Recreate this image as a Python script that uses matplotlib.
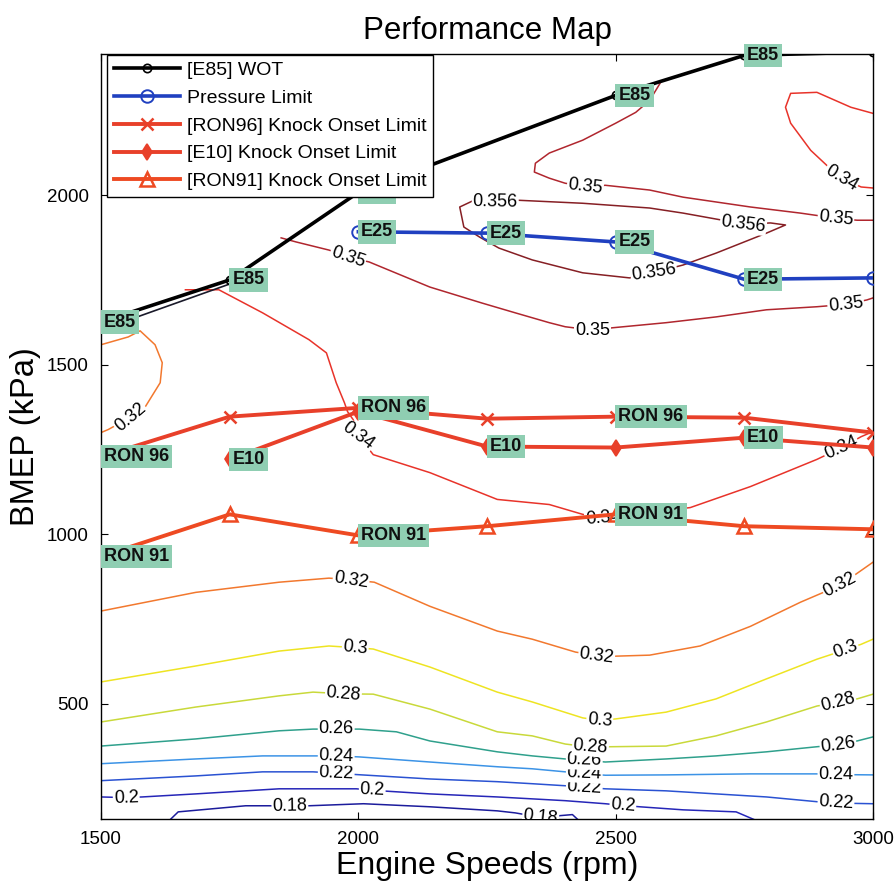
import matplotlib
matplotlib.use('Agg')
import matplotlib.pyplot as plt
import numpy as np

plt.rcParams['font.family'] = ['Liberation Sans', 'DejaVu Sans']

# ---------------- series data ----------------
rpm_wot = [1500, 1750, 2000, 2500, 2750, 3000]
bmep_wot = [1626, 1750, 2008, 2294, 2412, 2422]
rpm_wot2 = [1500, 1750]
bmep_wot2 = [1603, 1738]
rpm_press = [2000, 2250, 2500, 2750, 3000]
bmep_press = [1892, 1888, 1862, 1752, 1756]
rpm_ron96 = [1500, 1750, 2000, 2250, 2500, 2750, 3000]
bmep_ron96 = [1229, 1347, 1373, 1341, 1347, 1344, 1300]
rpm_e10 = [1750, 2000, 2250, 2500, 2750, 3000]
bmep_e10 = [1221, 1362, 1259, 1256, 1285, 1256]
rpm_ron91 = [1500, 1750, 2000, 2250, 2500, 2750, 3000]
bmep_ron91 = [935, 1059, 997, 1024, 1059, 1024, 1015]

legend_labels = ['[E85] WOT', 'Pressure Limit', '[RON96] Knock Onset Limit',
                 '[E10] Knock Onset Limit', '[RON91] Knock Onset Limit']

# point labels
ptlab_text = ['E85', 'E85', 'E85', 'E85', 'E85',
              'E25', 'E25', 'E25', 'E25',
              'RON 96', 'RON 96', 'RON 96',
              'E10', 'E10', 'E10',
              'RON 91', 'RON 91', 'RON 91']
ptlab_x = [1500, 1750, 2000, 2500, 2750,
           2000, 2250, 2500, 2750,
           1500, 2000, 2500,
           1750, 2250, 2750,
           1500, 2000, 2500]
ptlab_y = [1626, 1750, 2008, 2294, 2412,
           1892, 1888, 1862, 1752,
           1229, 1373, 1347,
           1221, 1259, 1285,
           935, 997, 1059]

# ---------------- efficiency contour lines (traced) ----------------
c018_x = [1635, 1650, 1781, 1826, 1867, 1904, 2010, 2139, 2270, 2305, 2354, 2416, 2426]
c018_y = [160, 182, 200, 200, 199, 200, 206, 197, 185, 179, 166, 174, 160]
c020_x = [1500, 1549, 1580, 1684, 1846, 1996, 2027, 2055, 2139, 2270, 2402, 2480, 2514, 2547, 2631, 2734, 2768]
c020_y = [226, 224, 226, 235, 250, 250, 246, 243, 235, 226, 215, 206, 201, 197, 188, 182, 160]
c022_x = [1500, 1684, 1814, 1912, 1957, 1996, 2139, 2270, 2338, 2402, 2439, 2480, 2598, 2695, 2793, 2891, 2928, 3000]
c022_y = [274, 288, 300, 300, 296, 292, 279, 271, 265, 259, 254, 250, 244, 235, 226, 212, 208, 206]
c024_x = [1500, 1684, 1814, 1912, 1957, 2002, 2139, 2270, 2338, 2402, 2439, 2480, 2598, 2762, 2891, 2928, 3000]
c024_y = [324, 338, 347, 347, 347, 344, 329, 315, 309, 300, 295, 290, 291, 294, 294, 292, 291]
c026_x = [1500, 1684, 1846, 1912, 1957, 2002, 2074, 2139, 2270, 2338, 2402, 2439, 2480, 2598, 2695, 2793, 2891, 2932, 2969, 3000]
c026_y = [376, 397, 421, 426, 426, 426, 418, 391, 359, 347, 338, 334, 329, 338, 347, 359, 374, 380, 391, 403]
c028_x = [1500, 1684, 1846, 1912, 1971, 2029, 2139, 2270, 2338, 2402, 2451, 2488, 2598, 2695, 2793, 2891, 2932, 2969, 3000]
c028_y = [447, 491, 524, 535, 530, 529, 485, 418, 406, 382, 373, 374, 376, 406, 447, 494, 505, 515, 529]
c030_x = [1500, 1684, 1846, 1943, 1994, 2029, 2139, 2270, 2338, 2436, 2469, 2500, 2598, 2695, 2793, 2891, 2947, 2977, 3000]
c030_y = [565, 612, 656, 671, 666, 662, 609, 535, 506, 459, 452, 456, 476, 515, 574, 632, 660, 676, 691]
c032a_x = [1500, 1684, 1846, 1943, 1986, 2031, 2139, 2270, 2338, 2422, 2463, 2500, 2566, 2664, 2762, 2859, 2936, 3000]
c032a_y = [774, 829, 859, 871, 866, 859, 788, 715, 691, 653, 643, 641, 644, 671, 729, 800, 850, 918]
c032b_x = [1500, 1553, 1576, 1605, 1619, 1615, 1586, 1557, 1514, 1500]
c032b_y = [1559, 1582, 1600, 1559, 1506, 1447, 1376, 1345, 1309, 1300]
c034a_x = [1664, 1729, 1814, 1904, 1938, 1957, 1973, 1979, 1990, 2000, 2029, 2139, 2270, 2371, 2436, 2475,
           2645, 2762, 2891, 2938, 2977, 3000]
c034a_y = [1721, 1721, 1653, 1574, 1535, 1447, 1388, 1362, 1338, 1290, 1235, 1182, 1103, 1088, 1059, 1048,
           1079, 1141, 1221, 1255, 1288, 1303]
c034b_x = [3000, 2957, 2891, 2840, 2830, 2840, 2879, 2910, 2938, 2977, 3000]
c034b_y = [2241, 2259, 2303, 2300, 2259, 2212, 2132, 2088, 2050, 2024, 2021]
c035a_x = [2586, 2566, 2539, 2500, 2436, 2371, 2344, 2342, 2371, 2402, 2441, 2480, 2566, 2631, 2762, 2859, 2928,
           2969, 3000]
c035a_y = [2329, 2279, 2244, 2212, 2162, 2124, 2094, 2068, 2050, 2035, 2026, 2029, 2015, 1994, 1965, 1947, 1932,
           1926, 1926]
c035b_x = [1850, 1879, 1943, 1980, 2021, 2139, 2240, 2305, 2371, 2402, 2455, 2494, 2598, 2695, 2793, 2891, 2947,
           2988, 3000]
c035b_y = [1874, 1862, 1838, 1818, 1803, 1729, 1682, 1653, 1624, 1612, 1602, 1609, 1624, 1641, 1662, 1671, 1678,
           1691, 1697]
c0356_x = [2266, 2309, 2436, 2566, 2631, 2748, 2801, 2830, 2793, 2695, 2631, 2574, 2527, 2436, 2338, 2273, 2236,
           2205, 2197, 2225, 2266]
c0356_y = [1980, 1985, 1976, 1962, 1947, 1915, 1918, 1912, 1888, 1829, 1794, 1772, 1756, 1771, 1809, 1844, 1876,
           1906, 1965, 1985, 1980]

contour_levels = [0.18, 0.2, 0.22, 0.24, 0.26, 0.28, 0.3, 0.32, 0.32, 0.34, 0.34, 0.35, 0.35, 0.356]
contour_xs = [c018_x, c020_x, c022_x, c024_x, c026_x, c028_x, c030_x, c032a_x, c032b_x, c034a_x, c034b_x,
              c035a_x, c035b_x, c0356_x]
contour_ys = [c018_y, c020_y, c022_y, c024_y, c026_y, c028_y, c030_y, c032a_y, c032b_y, c034a_y, c034b_y,
              c035a_y, c035b_y, c0356_y]

# contour labels: (index of line, x, y)
clab_line = [0, 0, 1, 1, 1, 2, 2, 2, 3, 3, 3, 4, 4, 4, 5, 5, 5, 6, 6, 6, 7, 7, 7, 8, 9, 9, 9, 10, 11, 11,
             12, 12, 12, 13, 13, 13]
clab_x = [1867, 2354, 1549, 2027, 2514, 1957, 2439, 2928, 1957, 2439, 2928, 1957, 2439, 2932,
          1971, 2451, 2932, 1994, 2469, 2947, 1986, 2463, 2936, 1557, 2000, 2475, 2938, 2938, 2441, 2928,
          1980, 2455, 2947, 2266, 2748, 2574]
clab_y = [199, 166, 224, 246, 201, 296, 254, 208, 347, 295, 292, 426, 334, 380,
          530, 373, 505, 666, 452, 660, 866, 643, 850, 1345, 1290, 1048, 1255, 2050, 2026, 1932,
          1818, 1602, 1678, 1980, 1915, 1772]

# ---------------- styling ----------------
level_colors = {0.18: '#1c1c9c', 0.2: '#2626b8', 0.22: '#2a52d2', 0.24: '#3c93e6', 0.26: '#2fa08c',
                0.28: '#c9d93a', 0.3: '#eee422', 0.32: '#f2782e', 0.34: '#e8332a', 0.35: '#b0262e',
                0.356: '#861f24'}
box_color = '#8fceb2'

fig = plt.figure(figsize=(8.96, 8.86), dpi=100)
ax = fig.add_axes([101 / 896, 1 - 819 / 886, 772 / 896, 765 / 886])
ax.set_xlim(1500, 3000)
ax.set_ylim(161, 2416)

# contours
for lvl, xs, ys in zip(contour_levels, contour_xs, contour_ys):
    ax.plot(xs, ys, color=level_colors[lvl], lw=1.1, zorder=2)

fig.canvas.draw()
for li, lx, ly in zip(clab_line, clab_x, clab_y):
    xs = np.array(contour_xs[li], float)
    ys = np.array(contour_ys[li], float)
    pts = ax.transData.transform(np.column_stack([xs, ys]))
    p = ax.transData.transform((lx, ly))
    k = int(np.argmin(np.hypot(pts[:, 0] - p[0], pts[:, 1] - p[1])))
    a = pts[max(k - 2, 0)]
    b = pts[min(k + 2, len(pts) - 1)]
    ang = np.degrees(np.arctan2(b[1] - a[1], b[0] - a[0]))
    if ang > 90:
        ang -= 180
    if ang < -90:
        ang += 180
    lvl = contour_levels[li]
    ax.text(lx, ly, f'{lvl:g}', fontsize=13, rotation=ang, rotation_mode='anchor',
            ha='center', va='center', zorder=3, clip_on=True,
            bbox=dict(boxstyle='square,pad=0.05', fc='white', ec='none'))

# series
ax.plot(rpm_wot2, bmep_wot2, color='#1a1a2a', lw=1.2, zorder=4)
h1, = ax.plot(rpm_wot, bmep_wot, color='black', lw=2.6, marker='o', ms=6, mfc='none', mew=1.2, zorder=4)
h2, = ax.plot(rpm_press, bmep_press, color='#2040c0', lw=2.6, marker='o', ms=9, mfc='none', mew=1.4, zorder=4)
h3, = ax.plot(rpm_ron96, bmep_ron96, color='#e8402a', lw=2.8, marker='x', ms=8, mew=1.8, zorder=4)
h4, = ax.plot(rpm_e10, bmep_e10, color='#e8402a', lw=2.8, marker='d', ms=8, mew=1.2, zorder=4)
h5, = ax.plot(rpm_ron91, bmep_ron91, color='#ee4a22', lw=2.8, marker='^', ms=10, mfc='none', mew=1.8, zorder=4)

# point labels
for t, x, y in zip(ptlab_text, ptlab_x, ptlab_y):
    ax.annotate(t, (x, y), xytext=(2, 0), textcoords='offset points', ha='left', va='center',
                fontsize=13, fontweight='bold', color='#101010', zorder=6, annotation_clip=False,
                bbox=dict(boxstyle='square,pad=0.18', fc=box_color, ec='none'))

leg = ax.legend([h1, h2, h3, h4, h5], legend_labels, loc='upper left', bbox_to_anchor=(0.008, 0.999),
                borderaxespad=0, fontsize=14, handlelength=3.4, labelspacing=0.52, borderpad=0.35,
                handletextpad=0.35, frameon=True, fancybox=False, framealpha=1, edgecolor='black')
leg.get_frame().set_linewidth(1.0)
leg.set_zorder(20)

ax.set_xticks([1500, 2000, 2500, 3000])
ax.set_yticks([500, 1000, 1500, 2000])
ax.tick_params(direction='in', top=True, right=True, length=5, labelsize=13.5, pad=9)
for s in ax.spines.values():
    s.set_linewidth(1.0)

ax.set_title('Performance Map', fontsize=22.5, pad=11)
ax.set_xlabel('Engine Speeds (rpm)', fontsize=23, labelpad=2)
ax.set_ylabel('BMEP (kPa)', fontsize=23.5, labelpad=4)

fig.savefig('out.png', dpi=100)
